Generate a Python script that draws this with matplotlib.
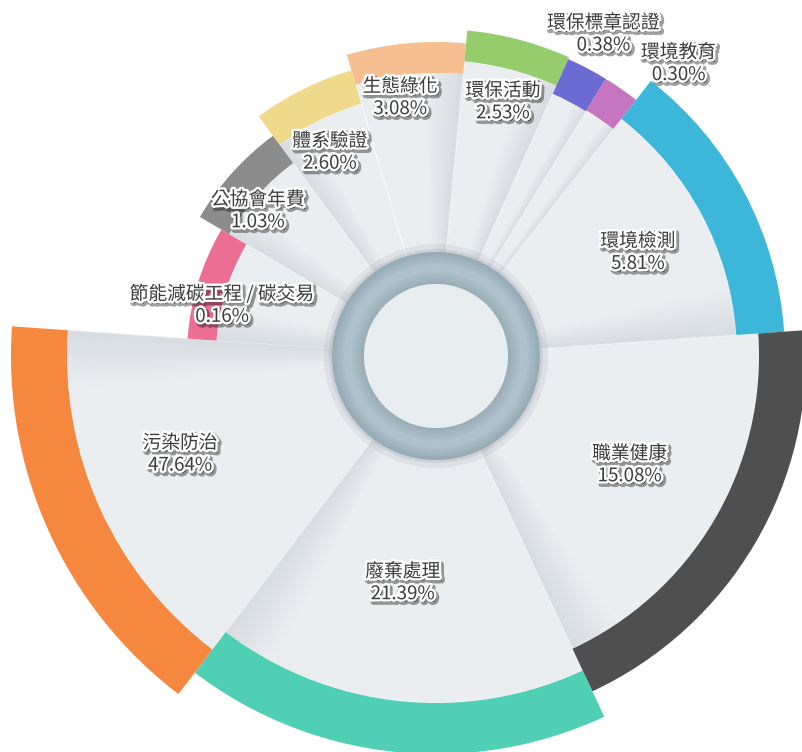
import numpy as np
import matplotlib.pyplot as plt
from matplotlib.patches import Wedge, Circle
import matplotlib.patheffects as pe

plt.rcParams['font.family'] = ['Noto Sans CJK TC', 'DejaVu Sans']

# data, listed clockwise starting at the left side
labels = ['節能減碳工程 / 碳交易', '公協會年費', '體系驗證', '生態綠化', '環保活動',
          '環保標章認證', '環境教育', '環境檢測', '職業健康', '廢棄處理', '污染防治']
values = [0.16, 1.03, 2.60, 3.08, 2.53, 0.38, 0.30, 5.81, 15.08, 21.39, 47.64]
colors = ['#ED6E93', '#8C8C8C', '#EFDA8B', '#F7BF8F', '#95CC6C',
          '#6B6BD1', '#C676BF', '#3DB7D9', '#4F4F4F', '#4FCFB3', '#F5873F']

# layout (the slices are not value-proportional)
spans = [26.5, 23, 20, 22, 18.5, 7.5, 6.5, 48, 69, 62.3, 56.7]   # degrees
r_face = [220, 240, 263, 283, 296, 287, 288, 301, 323, 347, 369]
r_band = [249, 274, 298, 314, 327, 325, 325, 349, 370, 398, 425]
shade_hi = [True, True, True, False, False, False, False, False, False, False, False]
lab_nudge = [3.9, 2.8, 1.0, 2.4, 0.0, 0.3, -4.9, -0.8, 1.2, -2.2, -3.4]
lab_r = [220, 230, 230, 261, 263, 363, 380, 227, 222, 229, 274]

W, H = 803, 752
cx, cy = 436, H - 356
start = 176

fig = plt.figure(figsize=(W / 100, H / 100), dpi=100)
ax = fig.add_axes([0, 0, 1, 1])
ax.set_xlim(0, W)
ax.set_ylim(0, H)
ax.axis('off')

t2 = start
for i in range(len(labels)):
    t1 = t2 - spans[i]
    # light face of the slice
    ax.add_patch(Wedge((cx, cy), r_face[i], t1, t2, facecolor='#EBEEF1',
                       edgecolor='#F7F8FA', linewidth=0.8, zorder=2))
    # soft fold shadow along one edge
    n = 14
    step = min(spans[i] * 0.35, 9) / n
    for k in range(n):
        a = 0.15 * (1 - k / n)
        if shade_hi[i]:
            w1, w2 = t2 - (k + 1) * step, t2 - k * step
        else:
            w1, w2 = t1 + k * step, t1 + (k + 1) * step
        ax.add_patch(Wedge((cx, cy), r_face[i], w1, w2, facecolor='#6f7c86',
                           edgecolor='none', alpha=a, zorder=3))
    # coloured outer band
    ax.add_patch(Wedge((cx, cy), r_band[i], t1, t2, width=r_band[i] - r_face[i],
                       facecolor=colors[i], edgecolor='none', zorder=4))
    # label
    ang = np.radians((t1 + t2) / 2 + lab_nudge[i])
    tx = cx + lab_r[i] * np.cos(ang)
    ty = cy + lab_r[i] * np.sin(ang)
    ax.text(tx, ty, f'{labels[i]}\n{values[i]:.2f}%', ha='center', va='center',
            fontsize=13.5, color='#3c3c3c', linespacing=1.08, zorder=10,
            path_effects=[pe.Stroke(linewidth=4.5, foreground='#00000060', offset=(1.5, -1.8)),
                          pe.Stroke(linewidth=3.5, foreground='white'),
                          pe.Normal()])
    t2 = t1

# centre ring
ax.add_patch(Circle((cx, cy), 112, facecolor='#8f9ba3', alpha=0.15, edgecolor='none', zorder=6))
ax.add_patch(Circle((cx, cy), 107, facecolor='#8f9ba3', alpha=0.22, edgecolor='none', zorder=6))
ax.add_patch(Wedge((cx, cy), 104, 0, 360, width=32, facecolor='#AFC1C9',
                   edgecolor='none', zorder=7))
for k in range(10):
    ax.add_patch(Wedge((cx, cy), 104 - k * 1.2, 0, 360, width=1.2,
                       facecolor='#6f8896', alpha=0.4 * (1 - k / 10), edgecolor='none', zorder=7))
for k in range(10):
    ax.add_patch(Wedge((cx, cy), 72 + (k + 1) * 1.2, 0, 360, width=1.2,
                       facecolor='#7d95a2', alpha=0.45 * (1 - k / 10), edgecolor='none', zorder=7))
ax.add_patch(Circle((cx, cy), 72, facecolor='#E8EEF0', edgecolor='none', zorder=8))

fig.savefig('out.png', dpi=100)
